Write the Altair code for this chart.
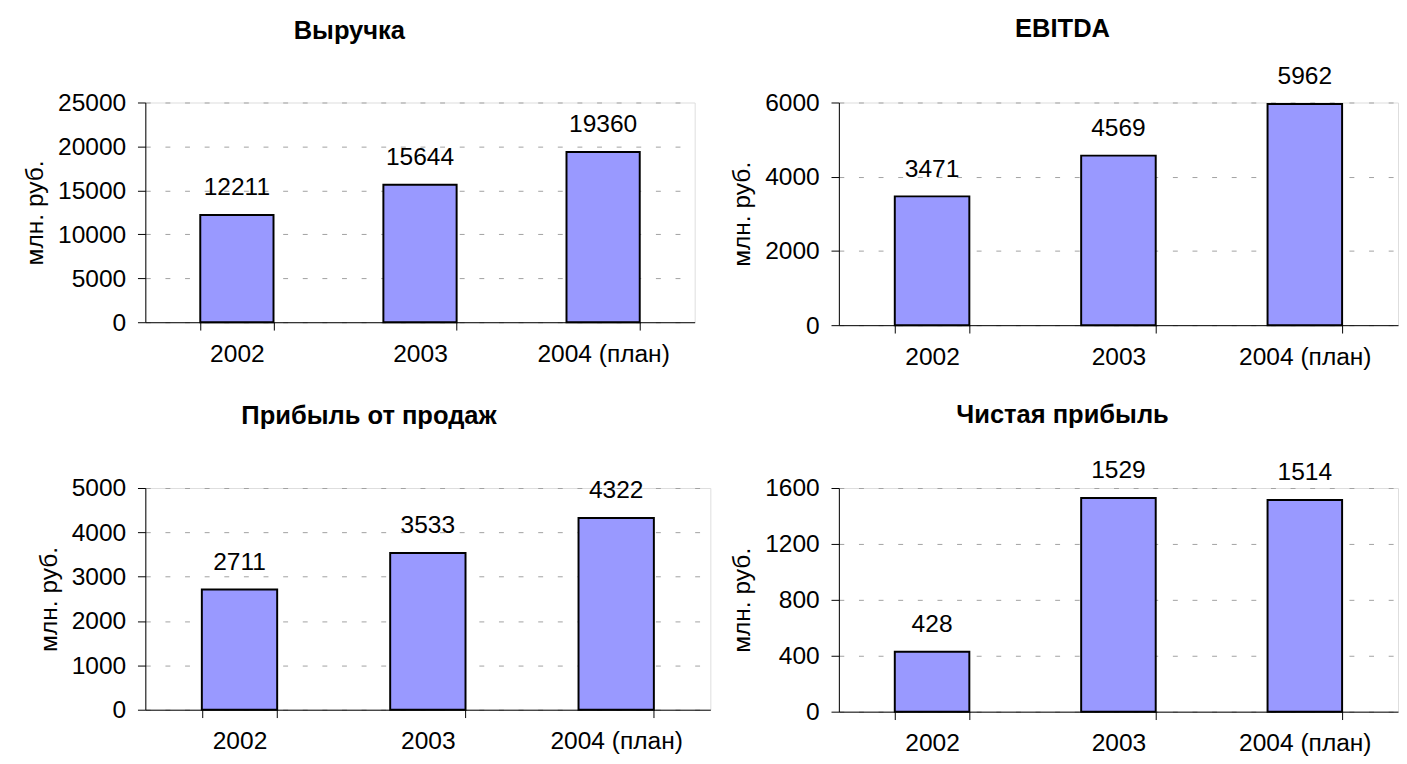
import altair as alt
import pandas as pd

years = ["2002", "2003", "2004 (план)"]
revenue = [12211, 15644, 19360]
ebitda = [3471, 4569, 5962]
sales_profit = [2711, 3533, 4322]
net_profit = [428, 1529, 1514]
titles = ["Выручка", "EBITDA", "Прибыль от продаж", "Чистая прибыль"]
y_max = [25000, 6000, 5000, 1600]
y_step = [5000, 2000, 1000, 400]
y_label = "млн. руб."

FONT = "Liberation Sans"
BAR = "#9999FF"
FS = 25


def panel(values, title, ymax, step, width, height, dx, offset):
    df = pd.DataFrame({"year": years, "value": values})
    x = alt.X(
        "year:N", sort=years, title=None,
        scale=alt.Scale(paddingInner=0.6, paddingOuter=0.3),
        axis=alt.Axis(labelAngle=0, tickBand="extent", tickSize=8, labelPadding=12,
                      labelFontSize=FS, labelFont=FONT, labelColor="black",
                      domainColor="black", tickColor="black", grid=False),
    )
    y = alt.Y(
        "value:Q", title=y_label,
        scale=alt.Scale(domain=[0, ymax], nice=False),
        axis=alt.Axis(values=list(range(0, ymax + 1, step)), format="d",
                      tickSize=8, labelPadding=12, labelFontSize=FS, labelFont=FONT,
                      labelColor="black", domainColor="black", tickColor="black",
                      grid=True, gridDash=[5, 15], gridColor="#a0a0a0", gridWidth=1,
                      titleFontSize=FS, titleFont=FONT, titleFontWeight="normal",
                      titleColor="black", titlePadding=10),
    )
    bars = alt.Chart(df).mark_bar(color=BAR, stroke="black", strokeWidth=2).encode(x=x, y=y)
    text = alt.Chart(df).mark_text(dy=-20, baseline="alphabetic", fontSize=FS, font=FONT,
                                   color="black").encode(
        x=alt.X("year:N", sort=years), y=alt.Y("value:Q"),
        text=alt.Text("value:Q", format="d"))
    return alt.layer(bars, text).properties(
        width=width, height=height,
        title=alt.TitleParams(title, fontSize=26, fontWeight="bold", font=FONT, color="black",
                              anchor="middle", frame="group", dx=dx, offset=offset),
    )


tl = panel(revenue, titles[0], y_max[0], y_step[0], 560, 224, -72, 48)
tr = panel(ebitda, titles[1], y_max[1], y_step[1], 570, 227, -57, 23)
bl = panel(sales_profit, titles[2], y_max[2], y_step[2], 576, 226, -60, 48)
br = panel(net_profit, titles[3], y_max[3], y_step[3], 570, 228, -57, 31)

chart = alt.concat(tl, tr, bl, br, columns=2, spacing={"row": 32, "column": 18}).properties(
    padding={"left": 14, "top": 0, "right": 0, "bottom": 0}
).configure_view(stroke=None).configure(font=FONT)

chart.save("out.html", embed_options={"renderer": "svg", "actions": False})
